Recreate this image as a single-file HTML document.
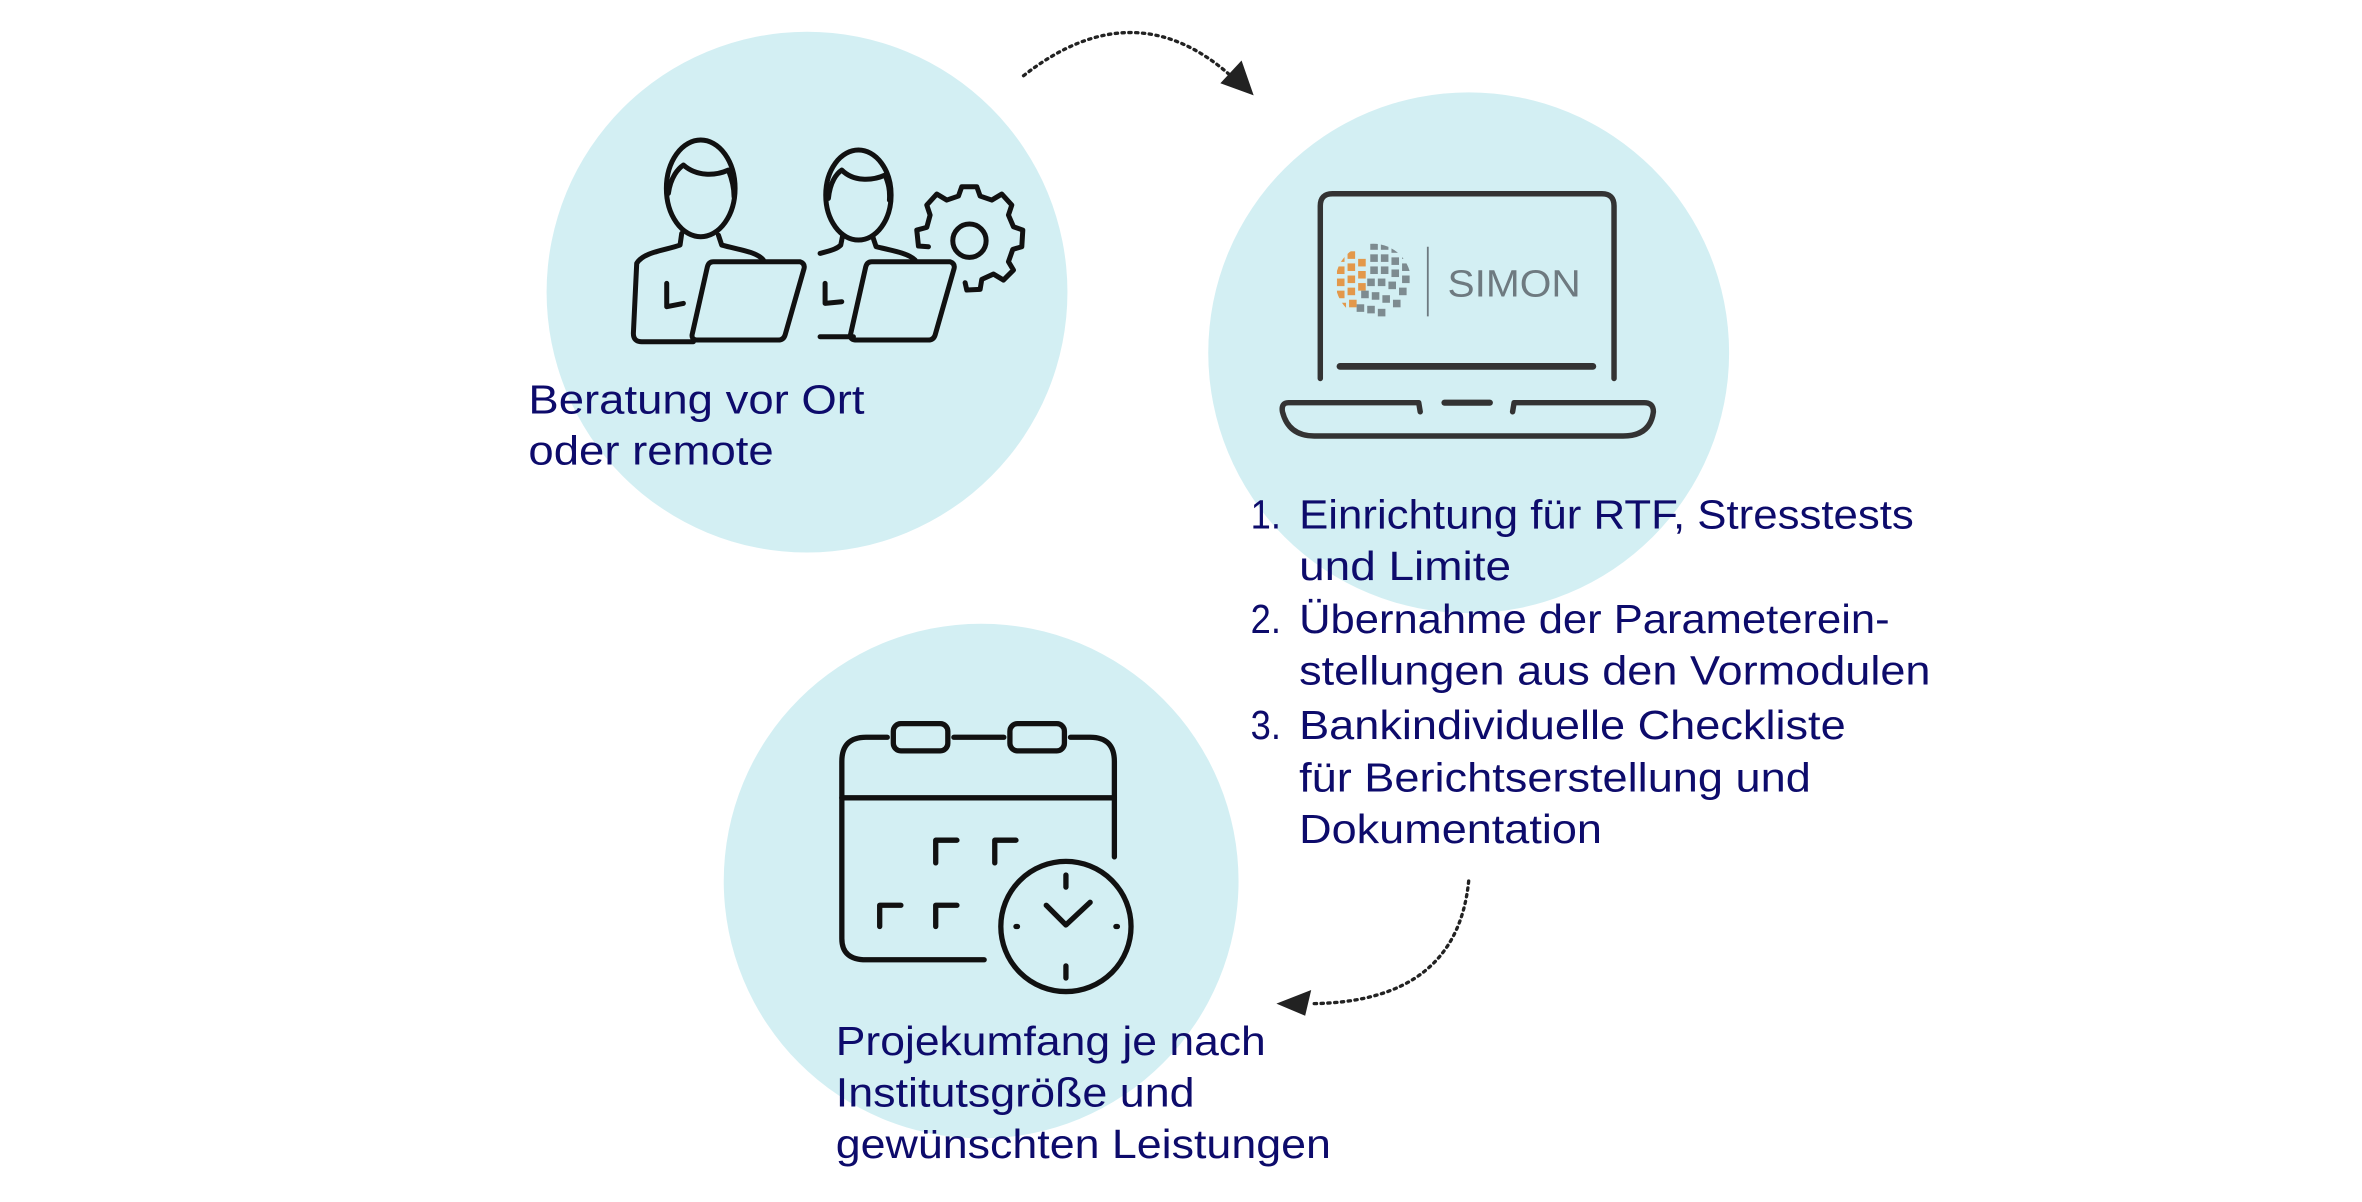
<!DOCTYPE html>
<html><head><meta charset="utf-8"><style>
html,body{margin:0;padding:0;background:#fff;}
svg{display:block}
text{font-family:"Liberation Sans",sans-serif;fill:#0d0b6b;font-size:27px}
</style></head><body>
<svg width="2362" height="1202" viewBox="0 0 1560 794" preserveAspectRatio="none" xmlns="http://www.w3.org/2000/svg">
<defs>
<clipPath id="sph"><circle cx="907" cy="186" r="25"/></clipPath>
</defs>
<circle cx="533" cy="193" r="172" fill="#d3eff3"/>
<circle cx="970" cy="233" r="172" fill="#d3eff3"/>
<circle cx="648" cy="582" r="170" fill="#d3eff3"/>

<g transform="translate(396.3,79.3) scale(0.2202)" fill="none" stroke="#111" stroke-width="15" stroke-linecap="round" stroke-linejoin="round">
 <ellipse cx="302" cy="205" rx="103" ry="145"/>
 <path d="M205 220 C212 170 235 145 250 135 C290 170 345 168 385 150 C395 175 402 200 402 230"/>
 <path d="M245 340 L240 375 C200 390 130 395 110 430 L100 640 Q100 665 125 665 L280 665"/>
 <path d="M355 345 L365 375 C420 390 470 395 490 420"/>
 <path d="M340 425 L600 425 Q615 430 612 445 L555 645 Q550 660 535 660 L290 660 Q272 658 277 640 L322 440 Q326 425 340 425 Z"/>
 <path d="M200 490 L200 560 L250 550"/>
 <ellipse cx="775" cy="225" rx="98" ry="135"/>
 <path d="M685 235 C690 185 710 160 725 150 C760 185 815 183 855 165 C865 190 870 210 868 240"/>
 <path d="M660 400 C700 390 712 385 722 375 L728 345"/>
 <path d="M818 350 L828 380 C880 392 925 400 945 420"/>
 <path d="M660 650 L760 650"/>
 <path d="M815 425 L1050 425 Q1065 430 1062 445 L1005 645 Q1000 660 985 660 L765 660 Q747 658 752 640 L797 440 Q801 425 815 425 Z"/>
 <path d="M675 490 L675 550 L725 545"/>
 <circle cx="1108" cy="362" r="50"/>
 <path d="M985 380 L955 378 L950 330 L980 322 L990 285 L980 255 L1010 222 L1040 240 L1075 228 L1085 200 L1130 200 L1140 228 L1175 240 L1205 222 L1235 255 L1225 285 L1240 320 L1268 330 L1265 380 L1238 388 L1225 425 L1240 450 L1210 480 L1180 462 L1145 478 L1140 508 L1100 510 L1095 488"/>
</g>

<g fill="none" stroke="#333" stroke-width="3.6" stroke-linecap="round" stroke-linejoin="round">
 <path d="M872 250 L872 136 Q872 128 880 128 L1058 128 Q1066 128 1066 136 L1066 250"/>
 <path d="M885 242 L1052 242" stroke-width="4.5"/>
 <path d="M938 272 L937 266 L851 266 Q846 266 847 272 Q851 288 868 288 L1072 288 Q1090 288 1092 272 Q1092 266 1086 266 L1000 266 L999 272"/>
 <path d="M954 266 L984 266" stroke-width="4"/>
</g>
<g clip-path="url(#sph)">
 <g fill="#e3984a">
  <rect x="883" y="168" width="5" height="5"/><rect x="890" y="166" width="5" height="5"/><rect x="897" y="171" width="5" height="5"/>
  <rect x="883" y="176" width="5" height="5"/><rect x="890" y="174" width="5" height="5"/><rect x="897" y="179" width="5" height="5"/>
  <rect x="883" y="184" width="5" height="5"/><rect x="890" y="182" width="5" height="5"/><rect x="897" y="187" width="5" height="5"/>
  <rect x="883" y="192" width="5" height="5"/><rect x="890" y="190" width="5" height="5"/><rect x="884" y="200" width="5" height="5"/><rect x="891" y="198" width="5" height="5"/>
 </g>
 <g fill="#7d8b90">
  <rect x="905" y="160" width="5" height="5"/><rect x="912" y="160" width="5" height="5"/><rect x="919" y="162" width="5" height="5"/><rect x="926" y="166" width="5" height="5"/>
  <rect x="905" y="168" width="5" height="5"/><rect x="912" y="168" width="5" height="5"/><rect x="919" y="170" width="5" height="5"/><rect x="926" y="174" width="5" height="5"/>
  <rect x="905" y="176" width="5" height="5"/><rect x="912" y="176" width="5" height="5"/><rect x="919" y="178" width="5" height="5"/><rect x="926" y="182" width="5" height="5"/>
  <rect x="903" y="184" width="5" height="5"/><rect x="910" y="184" width="5" height="5"/><rect x="917" y="186" width="5" height="5"/><rect x="924" y="190" width="5" height="5"/>
  <rect x="899" y="192" width="5" height="5"/><rect x="906" y="193" width="5" height="5"/><rect x="913" y="195" width="5" height="5"/><rect x="920" y="198" width="5" height="5"/>
  <rect x="896" y="201" width="5" height="5"/><rect x="903" y="202" width="5" height="5"/><rect x="910" y="204" width="5" height="5"/>
 </g>
</g>
<line x1="943" y1="163" x2="943" y2="209" stroke="#6e7a80" stroke-width="1.2"/>
<text x="956" y="196" style="fill:#6e7a80;font-size:25px" textLength="88" lengthAdjust="spacingAndGlyphs">SIMON</text>

<g fill="none" stroke="#111" stroke-width="3.5" stroke-linecap="round" stroke-linejoin="round">
 <path d="M586 487 L572 487 Q556 487 556 503 L556 620 Q556 634 572 634 L650 634"/>
 <path d="M707 487 L720 487 Q736 487 736 503 L736 566"/>
 <path d="M556 527 L736 527"/>
 <rect x="590" y="478" width="36" height="18" rx="5"/>
 <rect x="667" y="478" width="36" height="18" rx="5"/>
 <path d="M630 487 L663 487"/>
 <path d="M618 570 L618 555 L632 555"/><path d="M657 570 L657 555 L671 555"/>
 <path d="M581 612 L581 598 L595 598"/><path d="M618 612 L618 598 L632 598"/>
 <circle cx="704" cy="612" r="43"/>
 <path d="M704 578 L704 586"/><path d="M704 638 L704 646"/>
 <path d="M671 612 L672 612"/><path d="M737 612 L738 612"/>
 <path d="M691 598 L704 611 L720 596"/>
</g>

<g fill="none" stroke="#222" stroke-width="2.2" stroke-dasharray="1.5 3" stroke-linecap="round">
 <path d="M676 50 Q750 -8 815 52"/>
 <path d="M970 582 Q962 662 866 663"/>
</g>
<polygon points="828,63 806,55 820,40" fill="#222"/>
<polygon points="843,663 866,654 862,671" fill="#222"/>

<g lengthAdjust="spacingAndGlyphs">
<text x="349" y="273" textLength="222" lengthAdjust="spacingAndGlyphs">Beratung vor Ort</text>
<text x="349" y="307" textLength="162" lengthAdjust="spacingAndGlyphs">oder remote</text>

<text x="826" y="349" textLength="20" lengthAdjust="spacingAndGlyphs">1.</text>
<text x="858" y="349" textLength="406" lengthAdjust="spacingAndGlyphs">Einrichtung für RTF, Stresstests</text>
<text x="858" y="383" textLength="140" lengthAdjust="spacingAndGlyphs">und Limite</text>
<text x="826" y="418" textLength="20" lengthAdjust="spacingAndGlyphs">2.</text>
<text x="858" y="418" textLength="390" lengthAdjust="spacingAndGlyphs">Übernahme der Parameterein-</text>
<text x="858" y="452" textLength="417" lengthAdjust="spacingAndGlyphs">stellungen aus den Vormodulen</text>
<text x="826" y="488" textLength="20" lengthAdjust="spacingAndGlyphs">3.</text>
<text x="858" y="488" textLength="361" lengthAdjust="spacingAndGlyphs">Bankindividuelle Checkliste</text>
<text x="858" y="523" textLength="338" lengthAdjust="spacingAndGlyphs">für Berichtserstellung und</text>
<text x="858" y="557" textLength="200" lengthAdjust="spacingAndGlyphs">Dokumentation</text>

<text x="552" y="697" textLength="284" lengthAdjust="spacingAndGlyphs">Projekumfang je nach</text>
<text x="552" y="731" textLength="237" lengthAdjust="spacingAndGlyphs">Institutsgröße und</text>
<text x="552" y="765" textLength="327" lengthAdjust="spacingAndGlyphs">gewünschten Leistungen</text>
</g>
</svg>
</body></html>
